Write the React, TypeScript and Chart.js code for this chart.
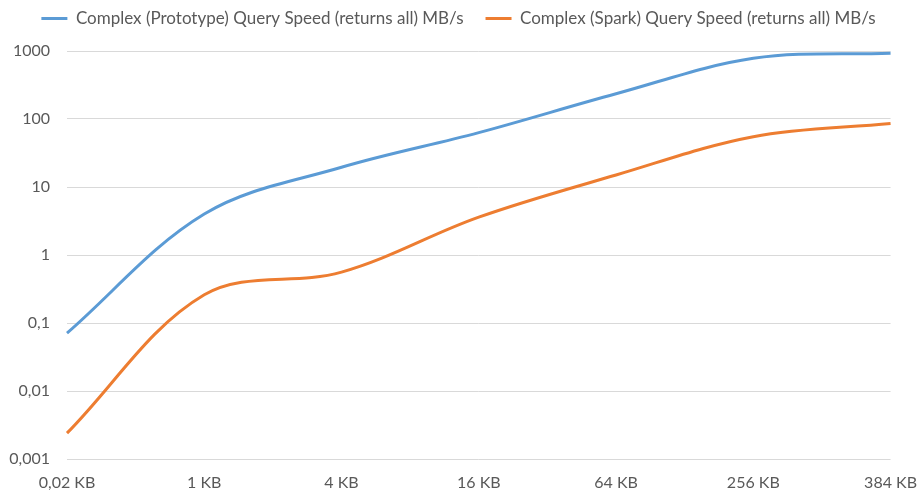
import React, { useEffect, useRef } from 'react';
import { Chart, registerables } from 'chart.js';

Chart.register(...registerables);

const categories = ['0,02 KB', '1 KB', '4 KB', '16 KB', '64 KB', '256 KB', '384 KB'];
const prototypeSpeed = [0.071, 4.0, 19.5, 63, 235, 780, 930];
const sparkSpeed = [0.0024, 0.26, 0.56, 3.6, 15, 55, 86];
const yTickValues = [0.001, 0.01, 0.1, 1, 10, 100, 1000];
const yTickLabels = ['0,001', '0,01', '0,1', '1', '10', '100', '1000'];
const seriesNames = [
  'Complex (Prototype) Query Speed (returns all) MB/s',
  'Complex (Spark) Query Speed (returns all) MB/s',
];

const legendHeightPlugin = {
  id: 'legendHeight',
  beforeLayout(chart: any) {
    const lg = chart.legend;
    if (lg && !lg.__patched) {
      const fit = lg.fit.bind(lg);
      lg.fit = function () {
        fit();
        this.height = 63;
      };
      lg.__patched = true;
    }
  },
};

export default function App() {
  const ref = useRef<HTMLCanvasElement | null>(null);

  useEffect(() => {
    if (!ref.current) return;
    const textColor = '#595959';
    const font = { family: 'Lato', size: 16 };
    const chart = new Chart(ref.current, {
      type: 'line',
      data: {
        labels: categories,
        datasets: [
          {
            label: seriesNames[0],
            data: prototypeSpeed,
            borderColor: '#5B9BD5',
            backgroundColor: '#5B9BD5',
            borderWidth: 3,
            pointRadius: 0,
            tension: 0.35,
            fill: false,
          },
          {
            label: seriesNames[1],
            data: sparkSpeed,
            borderColor: '#ED7D31',
            backgroundColor: '#ED7D31',
            borderWidth: 3,
            pointRadius: 0,
            tension: 0.35,
            fill: false,
          },
        ],
      },
      options: {
        responsive: false,
        animation: false,
        layout: { padding: { left: 0, right: 0, top: -12, bottom: 0 } },
        plugins: {
          legend: {
            position: 'top',
            align: 'center',
            labels: {
              color: textColor,
              font: { family: 'Lato', size: 17 },
              usePointStyle: true,
              pointStyle: 'line',
              pointStyleWidth: 26,
              padding: 22,
            },
          },
          tooltip: { enabled: false },
        },
        scales: {
          x: {
            type: 'category',
            offset: false,
            grid: { display: false, drawTicks: true, tickLength: 14 },
            border: { display: false },
            ticks: {
              color: textColor,
              font,
              padding: 0,
              maxRotation: 0,
              autoSkip: false,
            },
            afterFit: (scale: any) => {
              scale.height = 36;
            },
          },
          y: {
            type: 'logarithmic',
            min: 0.001,
            max: 1000,
            grid: { color: '#D9D9D9', lineWidth: 1, drawTicks: false },
            border: { display: false },
            ticks: {
              color: textColor,
              font,
              padding: 17,
              callback: (value: any) => {
                const i = yTickValues.findIndex((v) => Math.abs(v - Number(value)) / v < 1e-6);
                return i >= 0 ? yTickLabels[i] : '';
              },
            },
            afterBuildTicks: (scale: any) => {
              scale.ticks = yTickValues.map((v) => ({ value: v }));
            },
            afterFit: (scale: any) => {
              scale.width = 67;
            },
          },
        },
      },
      plugins: [legendHeightPlugin],
    } as any);
    return () => chart.destroy();
  }, []);

  return (
    <div style={{ position: 'absolute', left: 0, top: 0, width: 917, height: 495, background: '#fff' }}>
      <canvas ref={ref} width={917} height={495} style={{ display: 'block' }} />
    </div>
  );
}
